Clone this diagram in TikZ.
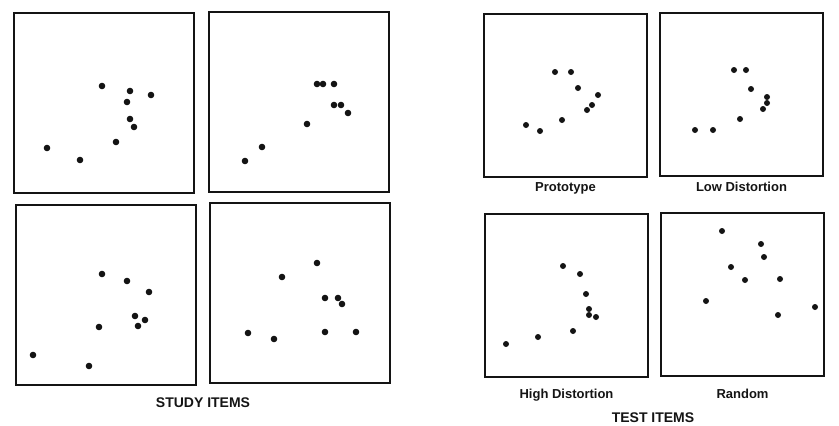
\documentclass[tikz,border=0pt]{standalone}
\usepackage{fontspec}
\setmainfont{Liberation Sans}
\usepackage{tikz}
\usetikzlibrary{positioning}
\definecolor{inkblack}{RGB}{20, 20, 20}

\begin{document}
\begin{tikzpicture}[
    x=1pt, y=-1pt,
    panel/.style={
        rectangle, draw=inkblack, line width=2pt, anchor=north west,
        minimum width=#1, minimum height=#1, inner sep=0pt
    },
    caption/.style={font=\fontsize{13}{15}\selectfont\bfseries, inner sep=0pt, text=inkblack},
    heading/.style={font=\fontsize{14}{16}\selectfont\bfseries, inner sep=0pt, anchor=north, text=inkblack},
    dot/.style={fill=inkblack}
]
    \useasboundingbox (0,0) rectangle (839,426);

    % study items
    \node[panel=180pt] (studyA) at (13,12) {};
    \node[panel=180pt] (studyB) at (208,11) {};
    \node[panel=180pt] (studyC) at (15,204) {};
    \node[panel=180pt] (studyD) at (209,202) {};
    \node[heading] (studylabel) at (203,398) {STUDY ITEMS};

    % test items
    \node[panel=163pt] (proto) at (483,13) {};
    \node[panel=163pt] (lowdist) at (659,12) {};
    \node[panel=163pt] (highdist) at (484,213) {};
    \node[panel=163pt] (random) at (660,212) {};
    \node[caption, below=4pt of proto] (protolabel) {Prototype};
    \node[caption, below=5pt of lowdist] (lowlabel) {Low Distortion};
    \node[caption, below=11pt of highdist] (highlabel) {High Distortion};
    \node[caption, below=12pt of random] (randomlabel) {Random};
    \node[heading] (testlabel) at (653,413) {TEST ITEMS};

    % dot patterns
    \foreach \px/\py in {102/86, 130/91, 151/95, 127/102, 130/119, 134/127, 116/142, 47/148, 80/160}
        \fill[dot] (\px,\py) circle (3.3);
    \foreach \px/\py in {317/84, 323/84, 334/84, 334/105, 341/105, 348/113, 307/124, 262/147, 245/161}
        \fill[dot] (\px,\py) circle (3.3);
    \foreach \px/\py in {102/274, 127/281, 149/292, 135/316, 145/320, 138/326, 99/327, 33/355, 89/366}
        \fill[dot] (\px,\py) circle (3.3);
    \foreach \px/\py in {317/263, 282/277, 325/298, 338/298, 342/304, 248/333, 325/332, 356/332, 274/339}
        \fill[dot] (\px,\py) circle (3.3);
    \foreach \px/\py in {555/72, 571/72, 578/88, 598/95, 592/105, 587/110, 562/120, 526/125, 540/131}
        \fill[dot] (\px,\py) circle (3);
    \foreach \px/\py in {734/70, 746/70, 751/89, 767/97, 767/103, 763/109, 740/119, 695/130, 713/130}
        \fill[dot] (\px,\py) circle (3);
    \foreach \px/\py in {563/266, 580/274, 586/294, 589/309, 589/315, 596/317, 573/331, 538/337, 506/344}
        \fill[dot] (\px,\py) circle (3);
    \foreach \px/\py in {722/231, 761/244, 764/257, 731/267, 745/280, 780/279, 706/301, 815/307, 778/315}
        \fill[dot] (\px,\py) circle (3);
\end{tikzpicture}
\end{document}
